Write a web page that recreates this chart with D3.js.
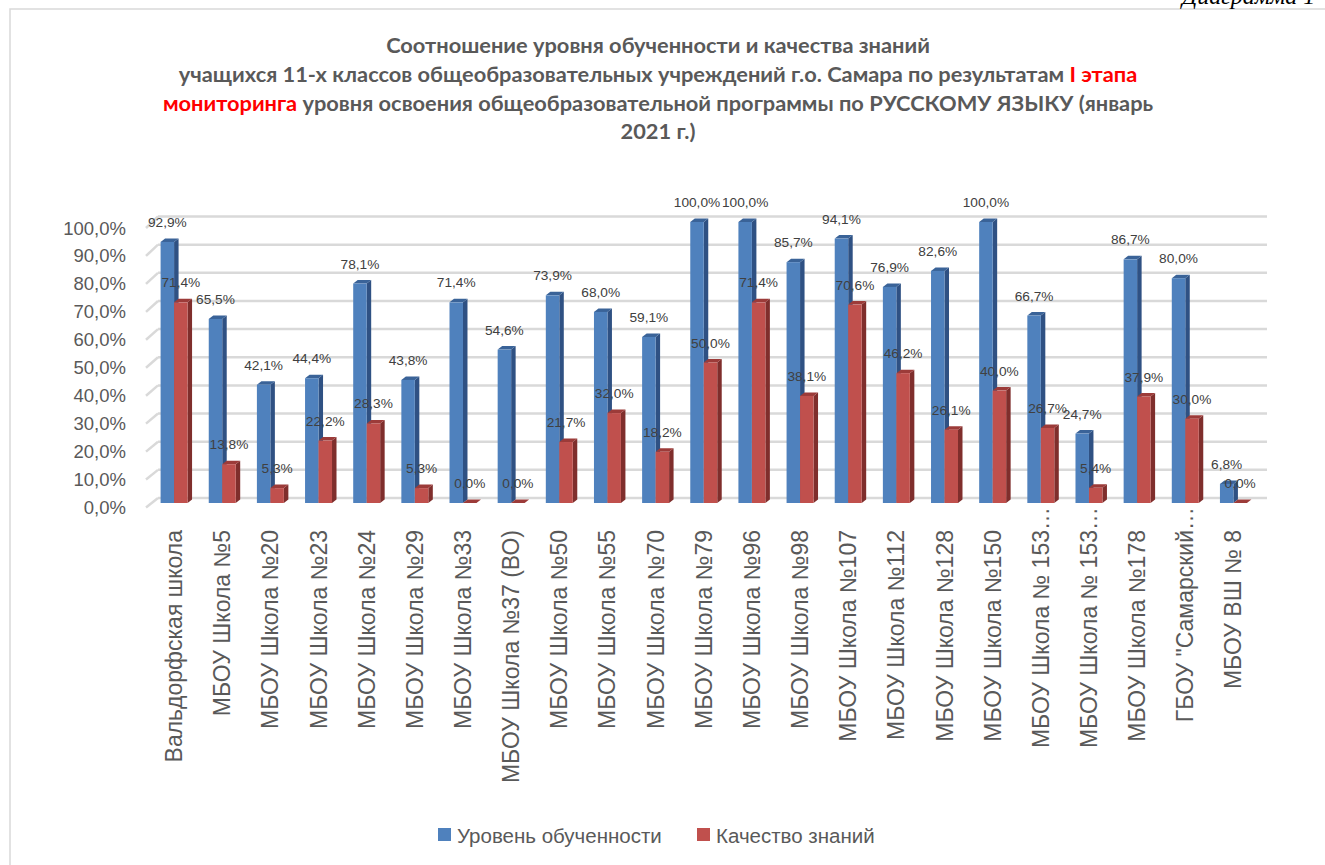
<!DOCTYPE html>
<html>
<head>
<meta charset="utf-8">
<script src="https://cdn.jsdelivr.net/npm/d3@7"></script>
<style>
  body { margin: 0; background: #fff; }
  svg { display: block; }
</style>
</head>
<body>
<svg id="chart"></svg>
<script>
const W = 1325, H = 865;

// ── data ──
const categories = [
    'Вальдорфская школа', 'МБОУ Школа №5', 'МБОУ Школа №20', 'МБОУ Школа №23',
    'МБОУ Школа №24', 'МБОУ Школа №29', 'МБОУ Школа №33', 'МБОУ Школа №37 (ВО)',
    'МБОУ Школа №50', 'МБОУ Школа №55', 'МБОУ Школа №70', 'МБОУ Школа №79',
    'МБОУ Школа №96', 'МБОУ Школа №98', 'МБОУ Школа №107', 'МБОУ Школа №112',
    'МБОУ Школа №128', 'МБОУ Школа №150', 'МБОУ Школа № 153…', 'МБОУ Школа № 153…',
    'МБОУ Школа №178', 'ГБОУ "Самарский…', 'МБОУ ВШ № 8'
];
const levelValues = [92.9, 65.5, 42.1, 44.4, 78.1, 43.8, 71.4, 54.6, 73.9, 68.0, 59.1, 100.0,
                     100.0, 85.7, 94.1, 76.9, 82.6, 100.0, 66.7, 24.7, 86.7, 80.0, 6.8];
const qualityValues = [71.4, 13.8, 5.3, 22.2, 28.3, 5.3, 0.0, 0.0, 21.7, 32.0, 18.2, 50.0,
                       71.4, 38.1, 70.6, 46.2, 26.1, 40.0, 26.7, 5.4, 37.9, 30.0, 0.0];
const seriesNames = ['Уровень обученности', 'Качество знаний'];
const yTicks = [0, 10, 20, 30, 40, 50, 60, 70, 80, 90, 100];

const COLORS = [
    { front: '#4f81bd', side: '#2f5183', top: '#3a6398' },
    { front: '#c0504d', side: '#7f2e2c', top: '#9c3b39' }
];
const GRID = '#d9d9d9';
const TEXT = '#595959';

const ru = d3.formatLocale({ decimal: ',', thousands: ' ', grouping: [3], currency: ['', ''] });
const pct = v => ru.format('.1f')(v) + '%';

const svg = d3.select('#chart').attr('width', W).attr('height', H);

// outer frame
svg.append('rect')
    .attr('x', 10).attr('y', 9).attr('width', W + 20).attr('height', H + 20)
    .attr('fill', 'none').attr('stroke', GRID).attr('stroke-width', 1.5);

// caption at the top right, cut by the page edge as in the source
svg.append('text')
    .attr('x', 1182).attr('y', 4)
    .attr('font-family', 'Liberation Serif').attr('font-style', 'italic')
    .attr('font-size', 24).attr('fill', '#000')
    .text('Диаграмма 1');

// ── title ──
const title = svg.append('text')
    .attr('text-anchor', 'middle')
    .attr('font-family', 'Lato').attr('font-weight', 'bold')
    .attr('font-size', 21.8).attr('fill', TEXT);
const titleLines = [
    [['Соотношение уровня обученности и качества знаний', TEXT]],
    [['учащихся 11-х классов общеобразовательных учреждений г.о. Самара по результатам ', TEXT], ['I этапа', '#ff0000']],
    [['мониторинга', '#ff0000'], [' уровня освоения общеобразовательной программы по РУССКОМУ ЯЗЫКУ (январь', TEXT]],
    [['2021 г.)', TEXT]]
];
titleLines.forEach((parts, i) => {
    parts.forEach((p, j) => {
        const t = title.append('tspan').attr('fill', p[1]).text(p[0]);
        if (j === 0) t.attr('x', 658).attr('y', 53 + i * 28.8);
    });
});

// ── scales ──
const x = d3.scaleBand()
    .domain(d3.range(categories.length))
    .range([150, 1257.5])
    .paddingInner(0.44)
    .paddingOuter(0.22);
const xs = d3.scaleBand().domain([0, 1]).range([0, x.bandwidth()]);

const yBack  = d3.scaleLinear().domain([0, 100]).range([498, 216.5]);
const yBar   = d3.scaleLinear().domain([0, 100]).range([503, 222]);
const yFront = d3.scaleLinear().domain([0, 100]).range([507.5, 228]);

const DX = 4.5, DY = -3.5;   // bar depth
const WALL_X0 = 158, WALL_X1 = 1267, SIDE_X = 146;

// gridlines on the back wall + left wall diagonals
const grid = svg.append('g').attr('stroke', GRID).attr('stroke-width', 2.5).attr('fill', 'none');
grid.selectAll('line.h').data(yTicks).join('line')
    .attr('class', 'h')
    .attr('x1', WALL_X0).attr('x2', WALL_X1)
    .attr('y1', d => yBack(d)).attr('y2', d => yBack(d));
grid.selectAll('line.d').data(yTicks).join('line')
    .attr('class', 'd')
    .attr('x1', SIDE_X).attr('y1', d => yFront(d))
    .attr('x2', WALL_X0).attr('y2', d => yBack(d));

// y axis labels
svg.append('g')
    .selectAll('text').data(yTicks).join('text')
    .attr('x', 126).attr('y', d => yFront(d))
    .attr('text-anchor', 'end').attr('dominant-baseline', 'central')
    .attr('font-family', 'Liberation Sans').attr('font-size', 18.5).attr('fill', TEXT)
    .text(d => pct(d));

// ── bars ──
const bars = [];
categories.forEach((c, i) => {
    [levelValues[i], qualityValues[i]].forEach((v, s) => bars.push({ i, s, v }));
});

const barG = svg.append('g');
bars.forEach(b => {
    const x0 = x(b.i) + xs(b.s), w = xs.bandwidth();
    const y0 = yBar(0), y1 = yBar(b.v);
    const col = COLORS[b.s];
    const g = barG.append('g');
    g.append('path')
        .attr('d', `M${x0 + w},${y1} L${x0 + w + DX},${y1 + DY} L${x0 + w + DX},${y0 + DY} L${x0 + w},${y0} Z`)
        .attr('fill', col.side);
    g.append('path')
        .attr('d', `M${x0},${y1} L${x0 + DX},${y1 + DY} L${x0 + w + DX},${y1 + DY} L${x0 + w},${y1} Z`)
        .attr('fill', col.top);
    g.append('rect')
        .attr('x', x0).attr('y', y1).attr('width', w).attr('height', y0 - y1)
        .attr('fill', col.front);
});

// data labels
svg.append('g')
    .selectAll('text').data(bars).join('text')
    .attr('x', d => x(d.i) + xs(d.s) + xs.bandwidth() / 2)
    .attr('y', d => yBar(d.v) - 15)
    .attr('text-anchor', 'middle')
    .attr('font-family', 'Liberation Sans').attr('font-size', 13.7).attr('fill', '#404040')
    .text(d => pct(d.v));

// category labels (rotated), ellipsis runs past the anchor
const LABEL_Y = 530;
const catG = svg.append('g')
    .attr('font-family', 'Liberation Sans').attr('font-size', 23).attr('fill', TEXT);
categories.forEach((c, i) => {
    const cx = x(i) + x.bandwidth() / 2;
    const cut = c.endsWith('…');
    const g = catG.append('g').attr('transform', `translate(${cx},${LABEL_Y}) rotate(-90)`);
    g.append('text')
        .attr('text-anchor', 'end').attr('dominant-baseline', 'central')
        .text(cut ? c.slice(0, -1) : c);
    if (cut) {
        g.append('text')
            .attr('text-anchor', 'start').attr('dominant-baseline', 'central')
            .text('…');
    }
});

// ── legend ──
const legendPos = [438, 697];
const legend = svg.append('g');
seriesNames.forEach((n, s) => {
    legend.append('rect')
        .attr('x', legendPos[s]).attr('y', 828).attr('width', 13).attr('height', 13)
        .attr('fill', COLORS[s].front);
    legend.append('text')
        .attr('x', legendPos[s] + 19).attr('y', 835)
        .attr('dominant-baseline', 'central')
        .attr('font-family', 'Liberation Sans').attr('font-size', 20.5).attr('fill', TEXT)
        .text(n);
});
</script>
</body>
</html>
